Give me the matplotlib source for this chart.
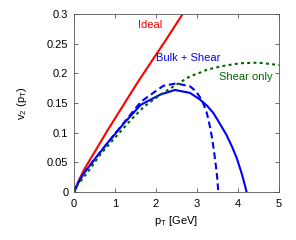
import matplotlib.pyplot as plt

plt.rcParams['font.family'] = ['Liberation Sans', 'DejaVu Sans']
plt.rcParams['mathtext.fontset'] = 'custom'
plt.rcParams['mathtext.rm'] = 'Liberation Sans'
plt.rcParams['mathtext.it'] = 'Liberation Sans'

# Ideal hydro
pt_ideal = [0, 0.1, 0.24, 0.5, 0.81, 1.2, 1.545, 1.9, 2.22, 2.65]
v2_ideal = [0, 0.017, 0.037, 0.067, 0.103, 0.146, 0.184, 0.221, 0.254, 0.3]

# Bulk + Shear (solid)
pt_bulk = [0, 0.1, 0.24, 0.49, 0.81, 1.22, 1.63, 1.85, 2.1, 2.46, 2.83, 3.07,
           3.25, 3.4, 3.55, 3.72, 3.85, 3.97, 4.1, 4.21]
v2_bulk = [0, 0.015, 0.0315, 0.054, 0.082, 0.116, 0.147, 0.155, 0.164, 0.172,
           0.167, 0.156, 0.145, 0.133, 0.116, 0.096, 0.077, 0.057, 0.029, 0]

# Bulk + Shear (dashed)
pt_bulk2 = [0, 0.1, 0.24, 0.49, 0.81, 1.22, 1.63, 1.85, 2.18, 2.5, 2.83, 2.97,
            3.07, 3.16, 3.24, 3.3, 3.36, 3.41, 3.45, 3.49, 3.52]
v2_bulk2 = [0, 0.015, 0.0315, 0.054, 0.082, 0.117, 0.152, 0.163, 0.179, 0.183,
            0.178, 0.17, 0.16, 0.148, 0.133, 0.115, 0.094, 0.071, 0.05, 0.026, 0]

# Shear only
pt_shear = [0, 0.1, 0.33, 0.65, 0.98, 1.38, 1.71, 2.15, 2.5, 2.83, 3.07, 3.24,
            3.6, 4.05, 4.5, 5.0]
v2_shear = [0, 0.013, 0.033, 0.064, 0.09, 0.121, 0.144, 0.166, 0.181, 0.195,
            0.201, 0.206, 0.212, 0.217, 0.218, 0.214]

fig = plt.figure(figsize=(2.96, 2.4), dpi=100)
ax = fig.add_axes([0.25, 0.2, 0.6926, 0.7417])

ax.plot(pt_ideal, v2_ideal, color='red', lw=1.5)
ax.plot(pt_bulk, v2_bulk, color='blue', lw=1.5)
ax.plot(pt_bulk2, v2_bulk2, color='blue', lw=1.5, dashes=(3.2, 1.8))
ax.plot(pt_shear, v2_shear, color='#006400', lw=1.5, dashes=(1.4, 1.6))

ax.set_xlim(0, 5)
ax.set_ylim(0, 0.3)
ax.set_xticks([0, 1, 2, 3, 4, 5])
ax.set_yticks([0, 0.05, 0.1, 0.15, 0.2, 0.25, 0.3])
ax.set_yticklabels(['0', '0.05', '0.1', '0.15', '0.2', '0.25', '0.3'])
ax.tick_params(direction='in', top=True, right=True, labelsize=8,
               length=3, width=0.6, color='#555555')
ax.tick_params(axis='x', pad=5)
ax.tick_params(axis='y', pad=4)
for s in ax.spines.values():
    s.set_linewidth(0.6)
    s.set_color('#555555')

ax.text(1.85, 0.282, 'Ideal', color='red', fontsize=8, ha='center', va='center')
ax.text(2.78, 0.226, 'Bulk + Shear', color='blue', fontsize=8, ha='center', va='center')
ax.text(4.2, 0.194, 'Shear only', color='#006400', fontsize=8, ha='center', va='center')

ax.set_xlabel('p$_{\\rm T}$ [GeV]', fontsize=8)
ax.set_ylabel('v$_2$ (p$_{\\rm T}$)', fontsize=8)
ax.xaxis.set_label_coords(0.5, -0.125)
ax.yaxis.set_label_coords(-0.22, 0.5)

fig.savefig('out.png', dpi=100)
